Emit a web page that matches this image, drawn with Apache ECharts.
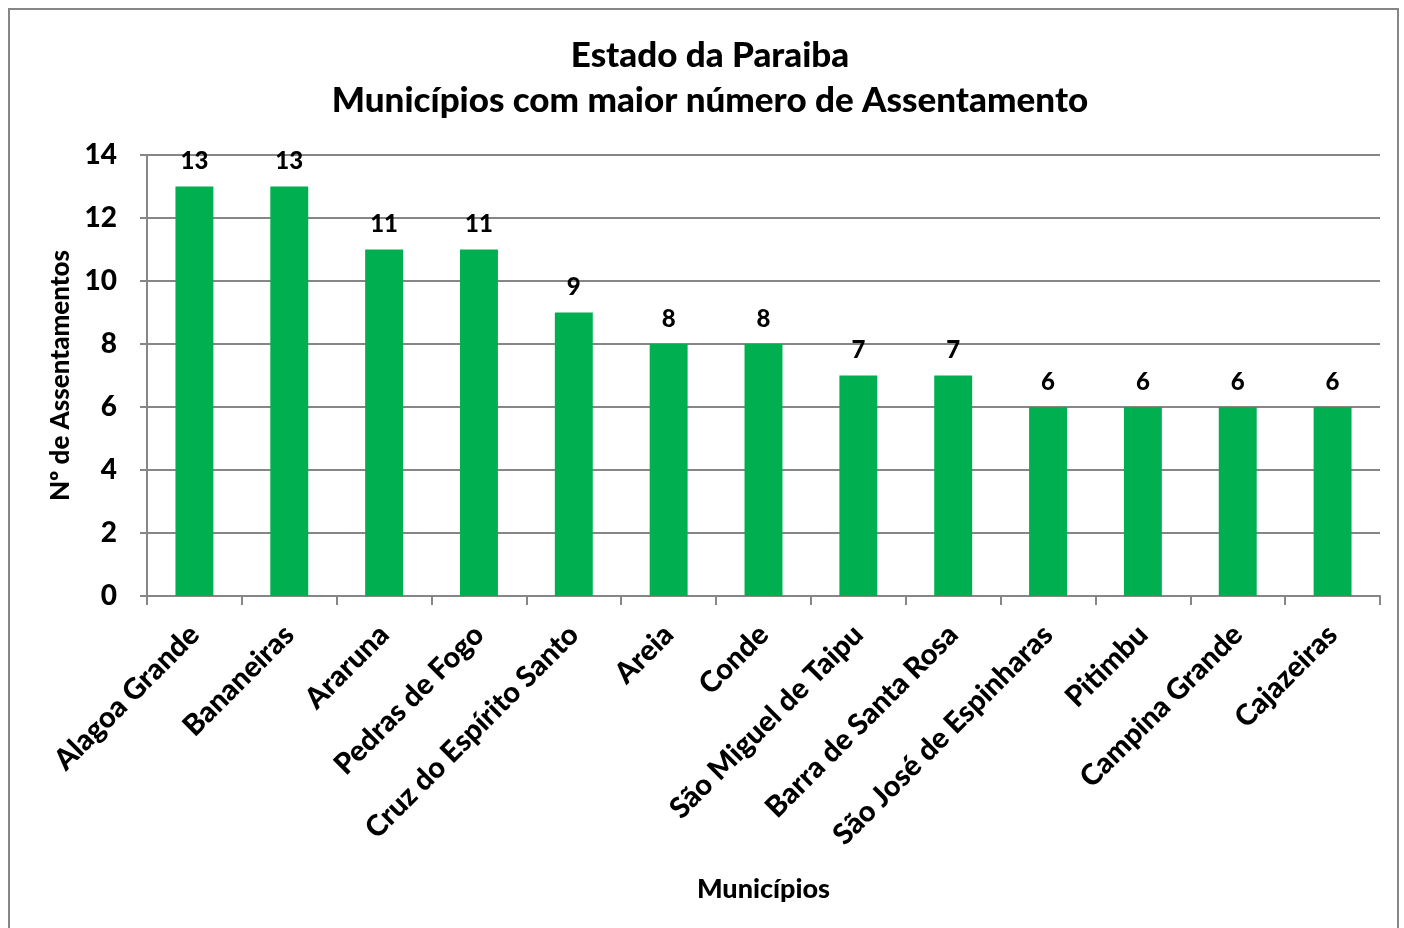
<!DOCTYPE html>
<html>
<head>
<meta charset="utf-8">
<script src="https://cdn.jsdelivr.net/npm/echarts@6/dist/echarts.min.js"></script>
<style>
  html, body { margin: 0; padding: 0; background: #fff; }
  #main { width: 1404px; height: 928px; }
</style>
</head>
<body>
<div id="main"></div>
<script>
// municípios e número de assentamentos
var municipios = ["Alagoa Grande", "Bananeiras", "Araruna", "Pedras de Fogo", "Cruz do Espírito Santo",
  "Areia", "Conde", "São Miguel de Taipu", "Barra de Santa Rosa", "São José de Espinharas",
  "Pitimbu", "Campina Grande", "Cajazeiras"];
var assentamentos = [13, 13, 11, 11, 9, 8, 8, 7, 7, 6, 6, 6, 6];
var yTicks = [0, 2, 4, 6, 8, 10, 12, 14];

var fonte = "Lato, 'Open Sans', sans-serif";
var peso = 900;
var cinza = "#868686";

var chart = echarts.init(document.getElementById("main"));
chart.setOption({
  animation: false,
  textStyle: { fontFamily: fonte },
  graphic: [{
    type: "rect",
    shape: { x: 9, y: 9, width: 1389, height: 940 },
    style: { fill: "none", stroke: cinza, lineWidth: 2 },
    silent: true
  }],
  title: {
    text: "Estado da Paraiba\nMunicípios com maior número de Assentamento",
    left: 705, top: 28, textAlign: "center",
    textStyle: { fontFamily: fonte, fontWeight: peso, fontSize: 35, lineHeight: 45, color: "#000" }
  },
  grid: { left: 147, right: 24, top: 155, bottom: 332, containLabel: false },
  xAxis: {
    type: "category",
    data: municipios,
    name: "Municípios",
    nameLocation: "middle",
    nameGap: 280,
    nameTextStyle: { fontFamily: fonte, fontWeight: peso, fontSize: 27, color: "#000" },
    axisLine: { lineStyle: { color: cinza, width: 2 } },
    axisTick: { show: true, length: 9, lineStyle: { color: cinza, width: 2 } },
    axisLabel: {
      rotate: 45, interval: 0, margin: 34,
      fontFamily: fonte, fontWeight: peso, fontSize: 29, color: "#000"
    }
  },
  yAxis: {
    type: "value",
    min: yTicks[0], max: yTicks[yTicks.length - 1], interval: 2,
    name: "Nº de Assentamentos",
    nameLocation: "middle",
    nameGap: 72,
    nameTextStyle: { fontFamily: fonte, fontWeight: peso, fontSize: 26, color: "#000" },
    axisLine: { show: true, lineStyle: { color: cinza, width: 2 } },
    axisTick: { show: true, length: 7, lineStyle: { color: cinza, width: 2 } },
    splitLine: { lineStyle: { color: cinza, width: 2 } },
    axisLabel: { margin: 30, fontFamily: fonte, fontWeight: peso, fontSize: 28, color: "#000" }
  },
  series: [{
    type: "bar",
    data: assentamentos,
    barWidth: "40%",
    itemStyle: { color: "#00B050" },
    label: {
      show: true, position: "top", distance: 13,
      fontFamily: fonte, fontWeight: peso, fontSize: 24, color: "#000"
    }
  }]
});
</script>
</body>
</html>
